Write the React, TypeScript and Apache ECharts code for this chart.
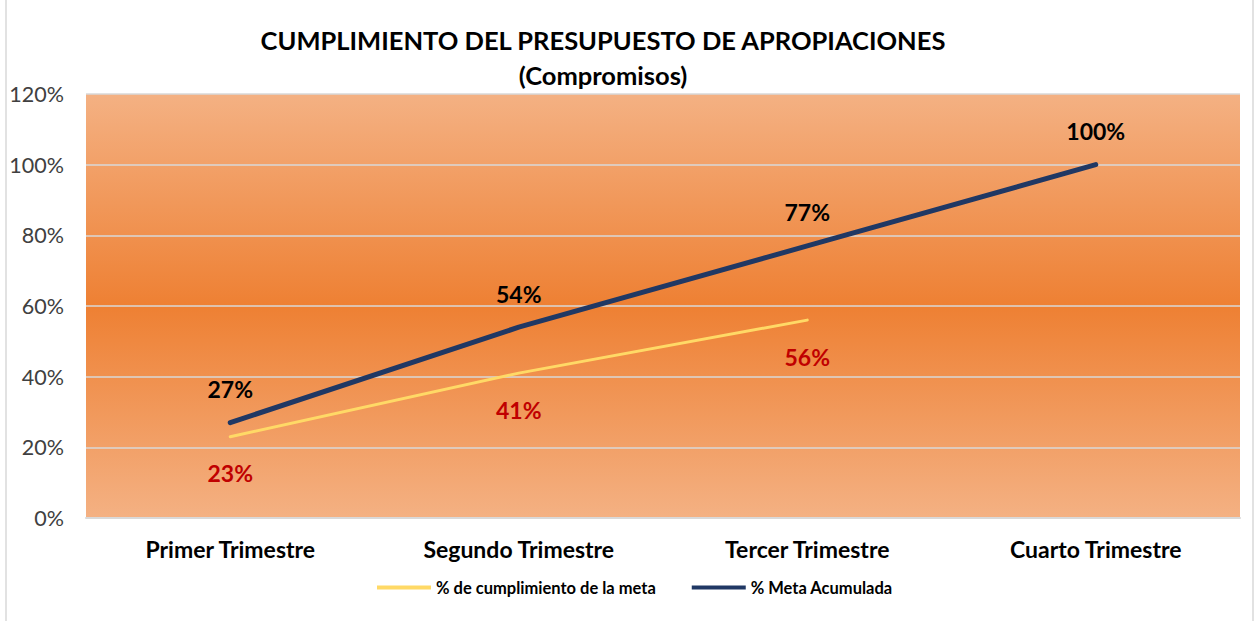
import React, { useEffect, useRef } from "react";
import * as echarts from "echarts";

const categories = ["Primer Trimestre", "Segundo Trimestre", "Tercer Trimestre", "Cuarto Trimestre"];
const cumplimiento = [23, 41, 56, null];
const metaAcumulada = [27, 54, 77, 100];
const titleLines = ["CUMPLIMIENTO DEL PRESUPUESTO DE APROPIACIONES", "(Compromisos)"];
const legendNames = ["% de cumplimiento de la meta", "% Meta Acumulada"];
const seriesColors = ["#FFD966", "#203864"];

const FONT = "Lato, 'Liberation Sans', sans-serif";

export default function App() {
  const ref = useRef<HTMLDivElement>(null);
  useEffect(() => {
    document.body.style.margin = "0";
    const chart = echarts.init(ref.current!, undefined, { renderer: "svg" });
    chart.setOption({
      animation: false,
      backgroundColor: "#ffffff",
      textStyle: { fontFamily: FONT },
      graphic: [
        {
          type: "rect",
          shape: { x: 6, y: -5, width: 1247, height: 640 },
          style: { fill: "none", stroke: "#d9d9d9", lineWidth: 1.5 },
          silent: true,
        },
        {
          type: "text",
          x: 603,
          y: 40,
          style: {
            text: titleLines[0],
            fontFamily: FONT,
            fontWeight: "bold",
            fontSize: 25.5,
            fill: "#000000",
            align: "center",
            verticalAlign: "middle",
          },
        },
        {
          type: "text",
          x: 603,
          y: 75,
          style: {
            text: titleLines[1],
            fontFamily: FONT,
            fontWeight: "bold",
            fontSize: 25.5,
            fill: "#000000",
            align: "center",
            verticalAlign: "middle",
          },
        },
      ],
      legend: {
        bottom: 20,
        left: 372,
        itemWidth: 54,
        itemHeight: 4,
        itemGap: 36,
        icon: "rect",
        textStyle: { fontFamily: FONT, fontWeight: "bold", fontSize: 16.5, color: "#000000" },
        data: legendNames.map((n, i) => ({
          name: n,
          itemStyle: { color: seriesColors[i], opacity: 1, borderWidth: 0 },
        })),
      },
      grid: {
        left: 86,
        right: 19,
        top: 94,
        bottom: 103,
        containLabel: false,
        show: true,
        borderWidth: 0,
        backgroundColor: new echarts.graphic.LinearGradient(0, 0, 0, 1, [
          { offset: 0, color: "#F4B183" },
          { offset: 0.5, color: "#EE8033" },
          { offset: 1, color: "#F4B183" },
        ]),
      },
      xAxis: {
        type: "category",
        data: categories,
        boundaryGap: true,
        axisLine: { show: true, lineStyle: { color: "#d9d9d9", width: 2 } },
        axisTick: { show: false },
        axisLabel: {
          fontFamily: FONT,
          fontWeight: "bold",
          fontSize: 23,
          color: "#000000",
          margin: 19,
        },
      },
      yAxis: {
        type: "value",
        min: 0,
        max: 120,
        interval: 20,
        axisLine: { show: false },
        axisTick: { show: false },
        axisLabel: {
          formatter: "{value}%",
          fontFamily: FONT,
          fontSize: 21.5,
          color: "#404040",
          margin: 22,
        },
        splitLine: { lineStyle: { color: "#d9d9d9", width: 1.5 } },
      },
      series: [
        {
          name: legendNames[0],
          type: "line",
          data: cumplimiento,
          symbol: "circle",
          symbolSize: 0,
          showSymbol: true,
          lineStyle: { color: seriesColors[0], width: 3, cap: "round" },
          itemStyle: { color: seriesColors[0] },
          label: {
            show: true,
            position: "bottom",
            distance: 25,
            formatter: "{c}%",
            fontFamily: FONT,
            fontWeight: "bold",
            fontSize: 23,
            color: "#C00000",
          },
          z: 3,
        },
        {
          name: legendNames[1],
          type: "line",
          data: metaAcumulada,
          symbol: "circle",
          symbolSize: 0,
          showSymbol: true,
          lineStyle: { color: seriesColors[1], width: 5, cap: "round" },
          itemStyle: { color: seriesColors[1] },
          label: {
            show: true,
            position: "top",
            distance: 22,
            formatter: "{c}%",
            fontFamily: FONT,
            fontWeight: "bold",
            fontSize: 23,
            color: "#000000",
          },
          z: 4,
        },
      ],
    });
    return () => chart.dispose();
  }, []);
  return <div ref={ref} style={{ position: "absolute", left: 0, top: 0, width: 1259, height: 621 }} />;
}
